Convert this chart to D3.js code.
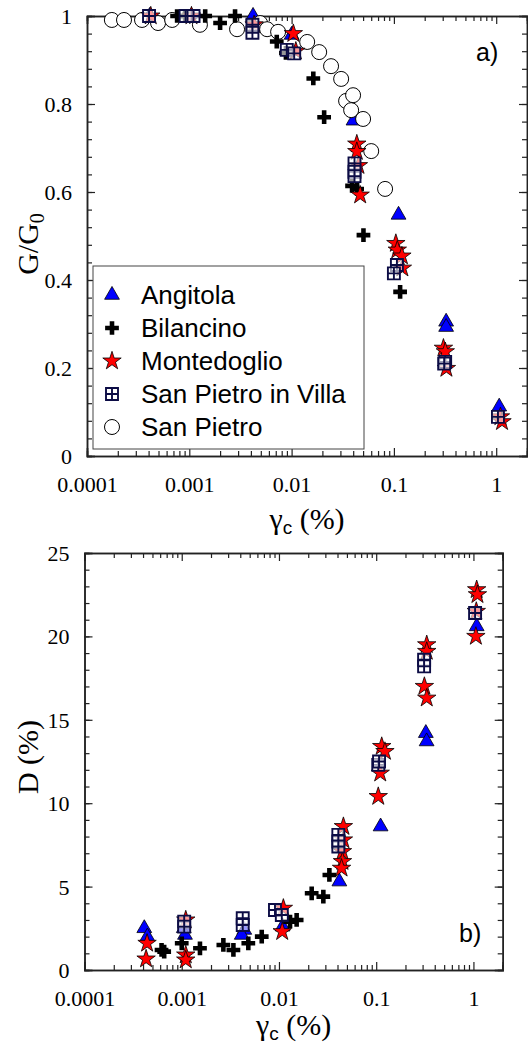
<!DOCTYPE html>
<html><head><meta charset="utf-8">
<script src="https://cdn.jsdelivr.net/npm/d3@7"></script>
<style>body{margin:0;background:#fff} svg{display:block}</style>
</head><body>
<svg id="c" width="528" height="1044"></svg>
<script>
// ---------- DATA ----------
const xTickValues = [0.0001, 0.001, 0.01, 0.1, 1];
const xTickLabels = ["0.0001", "0.001", "0.01", "0.1", "1"];
const gTickValues = [0, 0.2, 0.4, 0.6, 0.8, 1];
const gTickLabels = ["0", "0.2", "0.4", "0.6", "0.8", "1"];
const dTickValues = [0, 5, 10, 15, 20, 25];
const dTickLabels = ["0", "5", "10", "15", "20", "25"];
const seriesNames = ["Angitola", "Bilancino", "Montedoglio", "San Pietro in Villa", "San Pietro"];

// panel a) G/G0
const angitolaGammaA = [0.00041, 0.00105, 0.0042, 0.0100, 0.0403, 0.111, 0.324, 0.324, 1.07];
const angitolaG      = [1.0, 1.0, 1.0, 0.957, 0.762, 0.548, 0.305, 0.293, 0.112];
const bilancinoGammaA = [0.00076, 0.00091, 0.00143, 0.0020, 0.0028, 0.00716, 0.0088, 0.0163, 0.0208, 0.039, 0.0437, 0.0504, 0.115];
const bilancinoG      = [1.0, 1.0, 1.0, 0.984, 1.0, 0.942, 0.916, 0.858, 0.770, 0.614, 0.607, 0.502, 0.373];
const montedoglioGammaA = [0.00042, 0.00105, 0.0043, 0.0104, 0.0110, 0.0434, 0.0434, 0.0450, 0.0468, 0.1045, 0.108, 0.1197, 0.121, 0.305, 0.318, 0.326, 1.10, 1.14];
const montedoglioG      = [1.0, 1.0, 0.98, 0.96, 0.92, 0.709, 0.692, 0.66, 0.593, 0.483, 0.468, 0.4545, 0.427, 0.245, 0.237, 0.199, 0.089, 0.078];
const spvGammaA = [0.000404, 0.00092, 0.0011, 0.00414, 0.00414, 0.00897, 0.0106, 0.0412, 0.0412, 0.0412, 0.107, 0.100, 0.317, 0.310, 1.04];
const spvG      = [1.0, 1.0, 1.0, 0.98, 0.962, 0.923, 0.915, 0.665, 0.646, 0.636, 0.434, 0.415, 0.214, 0.21, 0.089];
const spGammaA = [0.000175, 0.00023, 0.000345, 0.000495, 0.00068, 0.00127, 0.00293, 0.00492, 0.00576, 0.00738, 0.0142, 0.0186, 0.0243, 0.0305, 0.0341, 0.0382, 0.0399, 0.050, 0.060, 0.082];
const spG      = [0.991, 0.991, 0.991, 0.984, 0.991, 0.98, 0.97, 0.984, 0.97, 0.964, 0.941, 0.918, 0.886, 0.857, 0.807, 0.786, 0.82, 0.766, 0.693, 0.607];

// panel b) D
const angitolaGammaB = [0.000412, 0.000443, 0.00105, 0.00108, 0.0044, 0.00414, 0.0109, 0.0418, 0.111, 0.324, 0.330, 1.08];
const angitolaD      = [2.5, 2.0, 2.5, 2.1, 2.4, 2.1, 2.6, 5.3, 8.6, 14.2, 13.7, 20.6];
const bilancinoGammaB = [0.00062, 0.00066, 0.0010, 0.00154, 0.00268, 0.0034, 0.00484, 0.00665, 0.013, 0.0152, 0.0217, 0.0286, 0.033];
const bilancinoD      = [1.2, 1.1, 1.6, 1.3, 1.5, 1.2, 1.6, 2.0, 2.9, 3.0, 4.6, 4.4, 5.7];
const montedoglioGammaB = [0.00043, 0.00044, 0.0011, 0.0011, 0.0011, 0.0111, 0.0108, 0.046, 0.046, 0.045, 0.045, 0.044, 0.105, 0.114, 0.123, 0.110, 0.331, 0.331, 0.313, 0.331, 1.08, 1.10, 1.06, 1.07];
const montedoglioD      = [0.66, 1.6, 0.9, 0.6, 3.0, 3.7, 2.3, 8.6, 7.8, 7.1, 6.5, 6.1, 10.4, 13.4, 13.1, 11.8, 19.5, 19.1, 17.0, 16.3, 22.8, 22.5, 20.0, 21.5];
const spvGammaB = [0.00106, 0.00106, 0.00424, 0.00424, 0.0091, 0.0107, 0.0408, 0.0408, 0.0408, 0.105, 0.107, 0.311, 0.311, 1.04];
const spvD      = [2.9, 2.6, 3.1, 2.7, 3.6, 3.3, 8.1, 7.7, 7.4, 12.3, 12.5, 18.6, 18.2, 21.4];

// ---------- DRAWING ----------
const svg = d3.select("#c");
const zip = (a, b) => a.map((v, i) => [v, b[i]]);
const SERIF = '"Liberation Serif","Times New Roman",serif';
const SANS = '"Liberation Sans",Arial,sans-serif';

const symbols = {
  "Angitola": g => g.append("path").attr("d", d3.symbol(d3.symbolTriangle, 95)()).attr("fill", "#0000ff").attr("stroke", "#000").attr("stroke-width", 0.8),
  "Bilancino": g => g.append("path").attr("d", d3.symbol(d3.symbolCross, 105)()).attr("fill", "#000"),
  "Montedoglio": g => g.append("path").attr("d", d3.symbol(d3.symbolStar, 105)()).attr("fill", "#ff0000").attr("stroke", "#000").attr("stroke-width", 0.8),
  "San Pietro in Villa": g => g.append("path").attr("d", "M-6,-6h12v12h-12zM0,-6v12M-6,0h12").attr("fill", "#fff").attr("fill-opacity", 0.6).attr("stroke", "#0c0c45").attr("stroke-width", 1.9),
  "San Pietro": g => g.append("circle").attr("r", 7.5).attr("fill", "#fff").attr("stroke", "#000").attr("stroke-width", 1)
};

function minorLog(maxV) {
  const out = [];
  for (let e = -4; e <= 0; e++) for (let k = 2; k <= 9; k++) { const v = k * Math.pow(10, e); if (v <= maxV) out.push(v); }
  return out;
}

function panel(cfg) {
  const x = d3.scaleLog().domain([0.0001, 2]).range([cfg.left, cfg.right]);
  const y = d3.scaleLinear().domain(cfg.yDomain).range([cfg.bottom, cfg.top]);
  const g = svg.append("g");
  const xMinor = minorLog(2);
  const yMinor = d3.range(cfg.yDomain[0], cfg.yDomain[1] + 1e-9, cfg.yMinorStep);
  const fmtX = (d) => xTickLabels[xTickValues.indexOf(d)];
  const fmtY = (d) => cfg.yLabels[cfg.yTicks.indexOf(d)];

  // minor ticks
  g.append("g").attr("transform", `translate(0,${cfg.bottom})`).call(d3.axisBottom(x).tickValues(xMinor).tickSize(-5).tickFormat(""));
  g.append("g").attr("transform", `translate(0,${cfg.top})`).call(d3.axisTop(x).tickValues(xMinor).tickSize(-5).tickFormat(""));
  g.append("g").attr("transform", `translate(${cfg.left},0)`).call(d3.axisLeft(y).tickValues(yMinor).tickSize(-5).tickFormat(""));
  g.append("g").attr("transform", `translate(${cfg.right},0)`).call(d3.axisRight(y).tickValues(yMinor).tickSize(-5).tickFormat(""));
  // major ticks
  g.append("g").attr("class", "xl").attr("transform", `translate(0,${cfg.bottom})`).call(d3.axisBottom(x).tickValues(xTickValues).tickSize(-8).tickPadding(20).tickFormat(fmtX));
  g.append("g").attr("transform", `translate(0,${cfg.top})`).call(d3.axisTop(x).tickValues(xTickValues).tickSize(-8).tickFormat(""));
  g.append("g").attr("class", "yl").attr("transform", `translate(${cfg.left},0)`).call(d3.axisLeft(y).tickValues(cfg.yTicks).tickSize(-8).tickPadding(15).tickFormat(fmtY));
  g.append("g").attr("transform", `translate(${cfg.right},0)`).call(d3.axisRight(y).tickValues(cfg.yTicks).tickSize(-8).tickFormat(""));
  g.selectAll(".domain").attr("stroke", "#222").attr("stroke-width", 1.5);
  g.selectAll(".tick line").attr("stroke", "#222").attr("stroke-width", 1.2);
  g.selectAll(".tick text").style("font-family", SERIF).style("font-size", "22px").attr("fill", "#000");
  g.selectAll(".yl .tick text").attr("dy", "0.34em");

  // data
  cfg.series.forEach(s => {
    zip(s.gx, s.gy).forEach(p => {
      const m = g.append("g").attr("transform", `translate(${x(p[0])},${y(p[1])})`);
      symbols[s.name](m);
    });
  });

  // x title
  const xt = g.append("text").attr("x", (cfg.left + cfg.right) / 2).attr("y", cfg.xTitleY).attr("text-anchor", "middle")
    .style("font-family", SERIF).style("font-size", "30px").attr("fill", "#000");
  xt.append("tspan").text("γ");
  xt.append("tspan").style("font-family", SANS).style("font-size", "19px").attr("dy", 5).text("c");
  xt.append("tspan").attr("dy", -5).text(" (%)");

  // y title
  const yt = g.append("text").attr("transform", `translate(${cfg.yTitleX},${cfg.yTitleY}) rotate(-90)`).attr("text-anchor", "middle")
    .style("font-family", SERIF).style("font-size", "30px").attr("fill", "#000");
  cfg.yTitle(yt);

  // panel tag
  g.append("text").attr("x", cfg.tagX).attr("y", cfg.tagY).style("font-family", SANS).style("font-size", "25px").attr("fill", "#000").text(cfg.tag);
  return { g, x, y };
}

panel({
  left: 87, right: 527, top: 16, bottom: 456,
  yDomain: [0, 1], yTicks: gTickValues, yLabels: gTickLabels, yMinorStep: 0.04,
  xTitleY: 529, yTitleX: 38, yTitleY: 244,
  yTitle: t => { t.append("tspan").text("G/G"); t.append("tspan").style("font-size", "20px").attr("dy", 6).text("0"); },
  tag: "a)", tagX: 476, tagY: 61,
  series: [
    { name: "Angitola", gx: angitolaGammaA, gy: angitolaG },
    { name: "San Pietro", gx: spGammaA, gy: spG },
    { name: "Bilancino", gx: bilancinoGammaA, gy: bilancinoG },
    { name: "Montedoglio", gx: montedoglioGammaA, gy: montedoglioG },
    { name: "San Pietro in Villa", gx: spvGammaA, gy: spvG }
  ]
});

panel({
  left: 84.5, right: 502.7, top: 553, bottom: 970,
  yDomain: [0, 25], yTicks: dTickValues, yLabels: dTickLabels, yMinorStep: 1,
  xTitleY: 1035, yTitleX: 38, yTitleY: 757,
  yTitle: t => { t.text("D (%)"); },
  tag: "b)", tagX: 459, tagY: 942,
  series: [
    { name: "Angitola", gx: angitolaGammaB, gy: angitolaD },
    { name: "Bilancino", gx: bilancinoGammaB, gy: bilancinoD },
    { name: "Montedoglio", gx: montedoglioGammaB, gy: montedoglioD },
    { name: "San Pietro in Villa", gx: spvGammaB, gy: spvD }
  ]
});

// legend (panel a)
const lg = svg.append("g");
lg.append("rect").attr("x", 93).attr("y", 266).attr("width", 271).attr("height", 183).attr("fill", "#fff").attr("stroke", "#444").attr("stroke-width", 1);
seriesNames.forEach((n, i) => {
  const cy = 295 + i * 33;
  const m = lg.append("g").attr("transform", `translate(112,${cy})`);
  symbols[n](m);
  lg.append("text").attr("x", 141).attr("y", cy).attr("dy", "0.35em").style("font-family", SANS).style("font-size", "26px").attr("fill", "#000").text(n);
});
</script>
</body></html>
